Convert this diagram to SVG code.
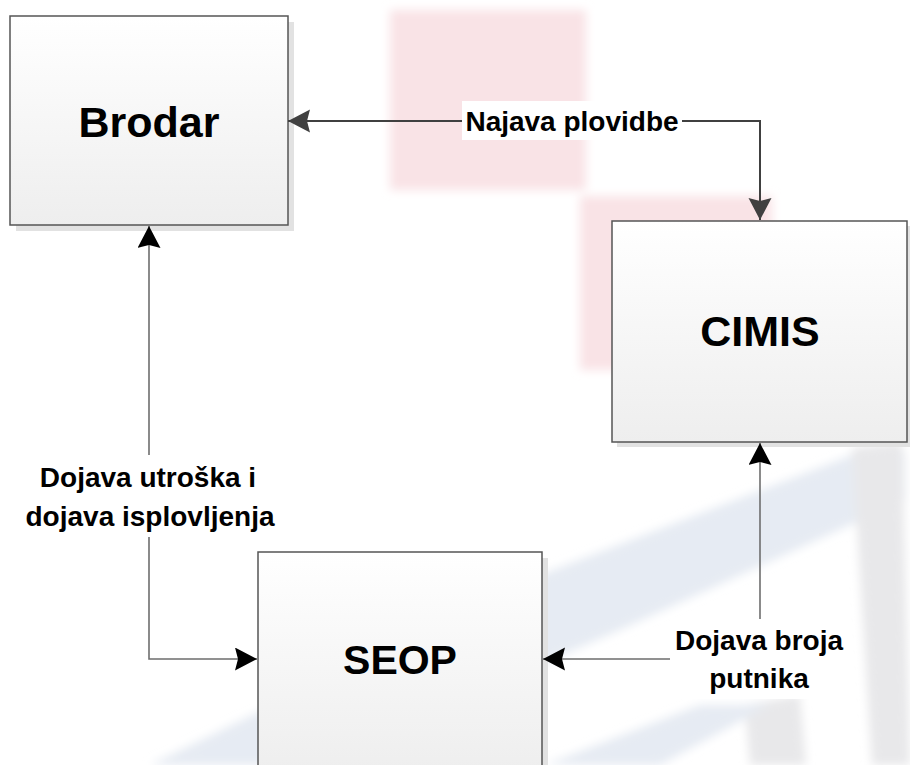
<svg xmlns="http://www.w3.org/2000/svg" width="910" height="765" viewBox="0 0 910 765">
<style>
.box{stroke:#555555;stroke-width:1.5;fill:url(#boxg)}
.shadow{fill:#e2e2e2}
.title{font-family:"Liberation Sans",Arial,sans-serif;font-weight:bold;font-size:43px;fill:#000;text-anchor:middle}
.lbl{font-family:"Liberation Sans",Arial,sans-serif;font-weight:bold;font-size:28px;fill:#000;text-anchor:middle}
.lblbg{fill:#ffffff}
.conn{fill:none;stroke:#6e6e6e;stroke-width:1.6}
.conn2{fill:none;stroke:#404040;stroke-width:2}
</style>
<defs>
<linearGradient id="boxg" x1="0" y1="0" x2="0" y2="1">
<stop offset="0" stop-color="#ffffff"/>
<stop offset="1" stop-color="#eeeeee"/>
</linearGradient>
<filter id="blur" x="-20%" y="-20%" width="140%" height="140%">
<feGaussianBlur stdDeviation="5"/>
</filter>
<marker id="ahB" markerUnits="userSpaceOnUse" markerWidth="24" markerHeight="24" refX="22" refY="11.5" orient="auto-start-reverse" viewBox="0 0 24 24">
<path d="M0,0 L22,11.5 L0,23 L3,11.5 Z" fill="#000000"/>
</marker>
<marker id="ahG" markerUnits="userSpaceOnUse" markerWidth="24" markerHeight="24" refX="22" refY="11.5" orient="auto-start-reverse" viewBox="0 0 24 24">
<path d="M0,0 L22,11.5 L0,23 L3,11.5 Z" fill="#404040"/>
</marker>
</defs>
<rect width="910" height="765" fill="#ffffff"/>
<g id="background" filter="url(#blur)">
<rect x="390" y="10" width="196" height="180" fill="#f9e3e6"/>
<rect x="580" y="196" width="192" height="174" fill="#f9e3e6"/>
<polygon points="150,765 540,575 860,452 905,452 905,500 620,630 310,765" fill="#e6ebf3"/>
<polygon points="852,448 902,442 910,765 872,765" fill="#e8e8ea"/>
<polygon points="745,705 800,695 806,765 750,765" fill="#e8e8ea"/>
<polygon points="545,765 700,705 770,705 660,765" fill="#e6ebf3"/>
</g>
<g id="node-brodar">
<rect class="shadow" x="16" y="22" width="278" height="209"/>
<rect class="box" x="10" y="16" width="278" height="209"/>
<text class="title" x="149" y="137">Brodar</text>
</g>
<g id="node-cimis">
<rect class="shadow" x="617" y="226" width="295" height="221"/>
<rect class="box" x="612" y="221" width="295" height="221"/>
<text class="title" x="760" y="346">CIMIS</text>
</g>
<g id="node-seop">
<rect class="shadow" x="264" y="558" width="284" height="220"/>
<rect class="box" x="258" y="552" width="284" height="220"/>
<text class="title" x="400" y="674" style="font-size:41px">SEOP</text>
</g>
<g id="connectors">
<path class="conn2" d="M288,121 H760 V220" marker-start="url(#ahG)" marker-end="url(#ahG)"/>
<path class="conn" d="M257,659 H149 V226" marker-start="url(#ahB)" marker-end="url(#ahB)"/>
<path class="conn" d="M543,659 H760 V443" marker-start="url(#ahB)" marker-end="url(#ahB)"/>
<rect class="lblbg" x="462" y="101" width="220" height="39"/>
<text class="lbl" x="572" y="131">Najava plovidbe</text>
<rect class="lblbg" x="18" y="455" width="260" height="82"/>
<text class="lbl" x="148" y="487">Dojava utroška i</text>
<text class="lbl" x="150" y="526">dojava isplovljenja</text>
<rect class="lblbg" x="670" y="619" width="180" height="80"/>
<text class="lbl" x="759" y="650">Dojava broja</text>
<text class="lbl" x="759" y="688">putnika</text>
</g>
</svg>
